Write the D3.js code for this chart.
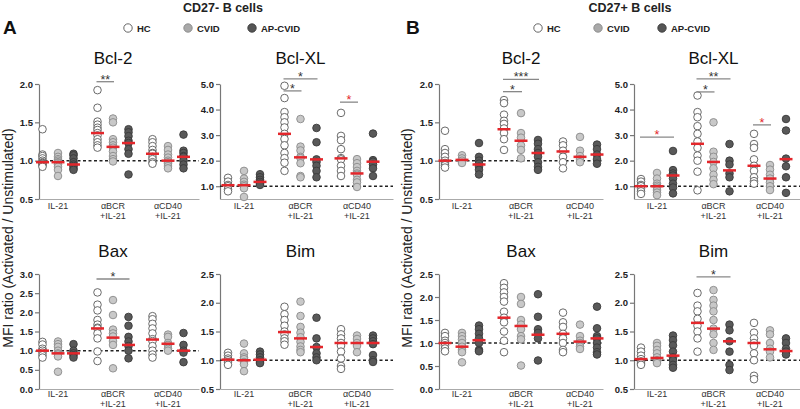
<!DOCTYPE html>
<html>
<head>
<meta charset="utf-8">
<script src="https://cdn.jsdelivr.net/npm/d3@7"></script>
<style>
  body { margin: 0; background: #fff; }
  svg { display: block; font-family: "Liberation Sans", Arial, sans-serif; }
</style>
</head>
<body>
<div id="chart"></div>
<script>
// ---- categories ----
var groups = ["IL-21", "\u03B1BCR", "\u03B1CD40"];
var groupsLine2 = ["", "+IL-21", "+IL-21"];
var series = ["HC", "CVID", "AP-CVID"];

// ---- values, 9 columns each : IL-21 (HC, CVID, AP), aBCR (...), aCD40 (...) ----
var a_bcl2 = [
  [1.41,1.08,1.06,1.03,1.0,0.98,0.97,0.96,0.95,0.94,0.92],
  [1.10,1.05,1.02,1.0,0.98,0.97,0.95,0.92,0.88,0.80],
  [1.09,1.07,1.03,0.98,0.95,0.93,0.90,0.88],
  [1.92,1.69,1.51,1.47,1.43,1.40,1.36,1.33,1.28,1.24,1.20,1.17],
  [1.55,1.50,1.28,1.24,1.20,1.17,1.12,1.06,1.02,0.99],
  [1.41,1.37,1.32,1.26,1.23,1.15,1.09,0.82],
  [1.28,1.24,1.19,1.14,1.10,1.09,1.05,1.02,0.98,0.96],
  [1.19,1.14,1.08,1.04,1.0,0.98,0.96,0.93,0.90],
  [1.34,1.13,1.10,1.06,1.05,1.0,0.95,0.90]
];
var a_bcl2_mid = [0.98,0.98,0.95,1.36,1.18,1.23,1.09,1.0,1.05];

var a_bclxl = [
  [1.33,1.18,1.05,1.0,0.88,0.8],
  [1.6,1.3,1.17,1.06,1.0,0.92,0.58],
  [1.47,1.35,1.25,1.17,1.1,1.05],
  [4.93,4.45,3.9,3.7,3.5,3.3,3.05,2.85,2.6,2.3,2.1,1.92,1.6],
  [3.63,2.55,2.4,2.15,2.1,1.9,1.4,1.35],
  [3.28,2.72,2.05,1.95,1.8,1.6,1.35],
  [3.87,2.97,2.8,2.45,2.1,2.05,1.8,1.6,1.4],
  [2.06,1.9,1.75,1.6,1.5,1.45,1.25,1.15,0.97],
  [3.06,2.02,1.96,1.85,1.7,1.4]
];
var a_bclxl_mid = [1.04,1.04,1.17,3.05,2.13,2.05,2.09,1.5,1.96];

var a_bax = [
  [1.23,1.16,1.05,1.0,0.95,0.88,0.82],
  [1.24,1.17,1.1,1.0,0.93,0.9,0.85,0.45],
  [1.17,1.0,0.93,0.88,0.82],
  [2.52,2.2,2.05,1.8,1.68,1.6,1.58,1.45,1.32,0.98,0.73],
  [2.32,1.93,1.55,1.45,1.37,1.25,1.15,0.54],
  [1.88,1.65,1.36,1.24,1.12,1.0,0.8],
  [1.9,1.82,1.7,1.58,1.45,1.3,1.25,1.12,1.0,0.9,0.82],
  [1.42,1.36,1.2,1.15,1.05,1.0],
  [1.46,1.15,1.0,0.95,0.7]
];
var a_bax_mid = [1.0,0.93,0.93,1.58,1.34,1.15,1.29,1.18,1.0];

var a_bim = [
  [1.13,1.08,1.03,1.0,0.97,0.92],
  [1.29,1.12,1.05,1.02,0.97,0.93,0.81],
  [1.15,1.1,1.05,1.0,0.97,0.95],
  [1.93,1.8,1.7,1.6,1.5,1.45,1.38,1.33,1.27],
  [2.02,1.77,1.58,1.48,1.4,1.32,1.24,1.18,1.14],
  [1.74,1.38,1.23,1.12,1.05,1.0],
  [1.54,1.45,1.38,1.3,1.25,1.15,1.03,0.9,0.85],
  [1.43,1.37,1.3,1.25,1.14],
  [1.43,1.38,1.33,1.28,1.09,1.0,0.97]
];
var a_bim_mid = [1.01,1.0,1.01,1.49,1.38,1.23,1.3,1.3,1.3];

var b_bcl2 = [
  [1.39,1.15,1.1,1.05,1.0,0.97,0.94,0.91],
  [1.07,1.03,1.0,0.97],
  [1.23,1.05,1.0,0.96,0.92,0.88,0.82],
  [1.79,1.75,1.6,1.52,1.48,1.42,1.36,1.28,1.14],
  [1.62,1.36,1.3,1.2,1.14,1.03],
  [1.27,1.22,1.15,1.1,1.05,0.98,0.92,0.88],
  [1.25,1.2,1.13,1.05,0.98,0.9],
  [1.31,1.13,1.06,1.02,0.98],
  [1.21,1.15,1.08,1.02,0.96]
];
var b_bcl2_mid = [1.0,1.01,0.95,1.41,1.26,1.1,1.12,1.05,1.08];

var b_bclxl = [
  [1.28,1.18,1.05,1.0,0.9,0.8,0.7],
  [1.52,1.3,1.1,1.02,0.95,0.85,0.75,0.65],
  [2.38,1.63,1.5,1.42,1.3,1.1,0.95,0.72],
  [4.55,3.9,3.7,3.35,3.05,2.75,2.5,2.2,2.0,1.57,0.84],
  [3.5,2.35,2.15,1.95,1.7,1.45,1.25,1.08],
  [2.65,2.0,1.85,1.5,1.35,0.8],
  [3.05,2.65,2.5,2.05,1.8,1.6,1.35,1.2,1.1],
  [1.83,1.65,1.45,1.3,1.15,1.0,0.85],
  [3.63,3.18,2.08,1.78,1.35,0.74]
];
var b_bclxl_mid = [1.0,1.0,1.42,2.66,1.95,1.62,1.8,1.3,2.06];

var b_bax = [
  [1.22,1.15,1.05,1.0,0.95,0.88,0.82],
  [1.22,1.15,1.08,1.0,0.92,0.85,0.8,0.58],
  [1.38,1.3,1.2,1.1,1.0,0.85,0.82],
  [2.3,2.2,2.1,2.0,1.9,1.68,1.55,1.45,1.25,1.05,0.8],
  [2.0,1.85,1.5,1.4,1.3,1.15,1.08,0.51],
  [2.06,1.57,1.3,1.22,1.1,0.62],
  [1.66,1.45,1.35,1.2,1.1,1.0,0.85,0.8],
  [1.4,1.15,1.05,1.0,0.92,0.87],
  [1.79,1.32,1.15,1.1,1.0,0.9,0.8,0.75]
];
var b_bax_mid = [1.0,0.92,1.06,1.55,1.37,1.18,1.2,1.03,1.1];

var b_bim = [
  [1.22,1.15,1.08,1.02,0.98,0.95,0.92],
  [1.3,1.25,1.18,1.12,1.05,1.0,0.98,0.95],
  [1.43,1.35,1.26,1.15,1.05,1.0,0.92,0.87],
  [2.17,1.95,1.85,1.72,1.6,1.5,1.38,1.15],
  [2.22,2.05,1.95,1.85,1.7,1.55,1.45,1.3,1.18],
  [1.62,1.52,1.33,1.15,0.92,0.83],
  [1.65,1.48,1.38,1.3,1.25,1.12,1.0,0.73,0.67],
  [1.52,1.45,1.3,1.2,1.15,1.05],
  [1.38,1.3,1.2,1.15,1.1]
];
var b_bim_mid = [1.02,1.04,1.08,1.65,1.55,1.33,1.3,1.19,1.16];

// ---- significance brackets: group, from series, to series, height (data units), label ----
var a_bcl2_sig = [{g:1, from:0, to:1, at:2.03, label:"**"}];
var a_bclxl_sig = [
  {g:1, from:0, to:2, at:5.2, label:"*"},
  {g:1, from:0, to:1, at:4.73, label:"*"},
  {g:2, from:0, to:1, at:4.29, label:"*", red:true}
];
var a_bax_sig = [{g:1, from:0, to:2, at:2.87, label:"*"}];
var b_bcl2_sig = [
  {g:1, from:0, to:2, at:2.06, label:"***"},
  {g:1, from:0, to:1, at:1.9, label:"*"}
];
var b_bclxl_sig = [
  {g:1, from:0, to:2, at:5.2, label:"**"},
  {g:1, from:0, to:1, at:4.69, label:"*"},
  {g:2, from:0, to:1, at:3.4, label:"*", red:true},
  {g:0, from:0, to:2, at:2.92, label:"*", red:true}
];
var b_bim_sig = [{g:1, from:0, to:2, at:2.45, label:"*"}];

// ---- tick labels ----
var ticks_bcl2 = [0.5, 1.0, 1.5, 2.0];
var ticks_bclxl = [1.0, 2.0, 3.0, 4.0, 5.0];
var ticks_bax_a = [0.0, 0.5, 1.0, 1.5, 2.0, 2.5, 3.0];
var ticks_bax_b = [0.0, 0.5, 1.0, 1.5, 2.0, 2.5];
var ticks_bim = [0.5, 1.0, 1.5, 2.0, 2.5];

// ---- layout ----
var width = 800, height = 409;
var rows = [
  {top: 84, bottom: 199, lab1: 208.5, lab2: 218.5, title: 64},
  {top: 274, bottom: 389, lab1: 397, lab2: 407, title: 257}
];
var fills = ["#ffffff", "#c8c8c8", "#595959"];
var strokes = ["#5a5a5a", "#8a8a8a", "#3a3a3a"];
var red = "#e3262b";

var panels = [
  {title:"Bcl-2",  data:a_bcl2,  mid:a_bcl2_mid,  sig:a_bcl2_sig,  row:0, x0:39,  first:19, step:55,   off:15.5, w:160, dom:[0.5,2.0], ticks:ticks_bcl2},
  {title:"Bcl-XL", data:a_bclxl, mid:a_bclxl_mid, sig:a_bclxl_sig, row:0, x0:220, first:24, step:56.5, off:16,   w:173, dom:[0.5,5.0], ticks:ticks_bclxl},
  {title:"Bax",    data:a_bax,   mid:a_bax_mid,   sig:a_bax_sig,   row:1, x0:39,  first:19, step:55,   off:15.5, w:160, dom:[0.0,3.0], ticks:ticks_bax_a},
  {title:"Bim",    data:a_bim,   mid:a_bim_mid,   sig:[],          row:1, x0:220, first:24, step:56.5, off:16,   w:173, dom:[0.5,2.5], ticks:ticks_bim},
  {title:"Bcl-2",  data:b_bcl2,  mid:b_bcl2_mid,  sig:b_bcl2_sig,  row:0, x0:439, first:23, step:59,   off:17,   w:164, dom:[0.5,2.0], ticks:ticks_bcl2},
  {title:"Bcl-XL", data:b_bclxl, mid:b_bclxl_mid, sig:b_bclxl_sig, row:0, x0:634, first:23, step:56.5, off:16,   w:166, dom:[0.5,5.0], ticks:ticks_bclxl},
  {title:"Bax",    data:b_bax,   mid:b_bax_mid,   sig:[],          row:1, x0:439, first:23, step:59,   off:17,   w:164, dom:[0.0,2.5], ticks:ticks_bax_b},
  {title:"Bim",    data:b_bim,   mid:b_bim_mid,   sig:b_bim_sig,   row:1, x0:634, first:23, step:56.5, off:16,   w:166, dom:[0.5,2.5], ticks:ticks_bim}
];

var svg = d3.select("#chart").append("svg")
  .attr("width", width)
  .attr("height", height);

// headers: panel letter, title, legend, y title
var halves = [
  {letter:"A", lx:3,   title:"CD27- B cells", tx:223, legX:[128,188,252], yt:8},
  {letter:"B", lx:406, title:"CD27+ B cells", tx:630, legX:[538,598,662], yt:407}
];
halves.forEach(function(h) {
  svg.append("text").attr("x", h.lx).attr("y", 34)
    .style("font-size", "19px").style("font-weight", "bold").attr("fill", "#111")
    .text(h.letter);
  svg.append("text").attr("x", h.tx).attr("y", 12).attr("text-anchor", "middle")
    .style("font-size", "12.5px").style("font-weight", "bold").attr("fill", "#222")
    .text(h.title);
  var leg = svg.append("g").selectAll("g").data(series).enter().append("g")
    .attr("transform", function(d, i) { return "translate(" + h.legX[i] + ",28)"; });
  leg.append("circle").attr("r", 4.2)
    .attr("fill", function(d, i) { return i === 0 ? "#fff" : (i === 1 ? "#a9a9a9" : "#555"); })
    .attr("stroke", function(d, i) { return i === 0 ? "#555" : (i === 1 ? "#888" : "#3a3a3a"); })
    .attr("stroke-width", 0.9);
  leg.append("text").attr("x", 9).attr("y", 3.5)
    .style("font-size", "9.5px").style("font-weight", "bold").attr("fill", "#222")
    .text(function(d) { return d; });
  svg.append("text")
    .attr("transform", "translate(" + (h.yt + 5) + ",238) rotate(-90)")
    .attr("text-anchor", "middle")
    .style("font-size", "14px").attr("fill", "#222")
    .text("MFI ratio (Activated / Unstimulated)");
});

panels.forEach(function(p) {
  var r = rows[p.row];
  var g = svg.append("g");

  var y = d3.scaleLinear().domain(p.dom).range([r.bottom, r.top]);
  var xg = d3.scaleLinear().domain([0, 2]).range([p.x0 + p.first, p.x0 + p.first + 2 * p.step]);
  var xs = d3.scalePoint().domain(series).range([-p.off, p.off]);
  function colX(i) { return xg(Math.floor(i / 3)) + xs(series[i % 3]); }

  // title
  g.append("text").attr("x", xg(1)).attr("y", r.title).attr("text-anchor", "middle")
    .style("font-size", "17px").attr("fill", "#111").text(p.title);

  // y axis
  var ax = g.append("g").attr("transform", "translate(" + p.x0 + ",0)")
    .call(d3.axisLeft(y).tickValues(p.ticks).tickFormat(d3.format(".1f")).tickSize(4).tickSizeOuter(0));
  ax.select(".domain").attr("stroke", "#777").attr("stroke-width", 1.2);
  ax.selectAll(".tick line").attr("stroke", "#777").attr("stroke-width", 1.2);
  ax.selectAll(".tick text").attr("x", -6)
    .style("font-size", "9.5px").style("font-weight", "bold").style("font-family", "Liberation Sans, Arial, sans-serif")
    .attr("fill", "#222");

  // x axis baseline
  var xb = d3.scaleLinear().domain([0, 1]).range([p.x0, p.x0 + p.w]);
  var xa = g.append("g").attr("transform", "translate(0," + r.bottom + ")")
    .call(d3.axisBottom(xb).tickValues([]).tickSizeOuter(0));
  xa.select(".domain").attr("stroke", "#aaa").attr("stroke-width", 1);

  // x labels
  var xl = g.append("g").selectAll("g").data(groups).enter().append("g");
  xl.append("text").attr("x", function(d, i) { return xg(i); }).attr("y", r.lab1)
    .attr("text-anchor", "middle").style("font-size", "9px").attr("fill", "#333")
    .text(function(d) { return d; });
  xl.append("text").attr("x", function(d, i) { return xg(i); }).attr("y", r.lab2)
    .attr("text-anchor", "middle").style("font-size", "9px").attr("fill", "#333")
    .text(function(d, i) { return groupsLine2[i]; });

  // reference line at 1.0
  g.append("line").attr("x1", p.x0).attr("x2", p.x0 + p.w)
    .attr("y1", y(1)).attr("y2", y(1))
    .attr("stroke", "#222").attr("stroke-width", 1.5).attr("stroke-dasharray", "3,2.5");

  // dots
  p.data.forEach(function(vals, i) {
    g.append("g").selectAll("circle").data(vals).enter().append("circle")
      .attr("cx", colX(i))
      .attr("cy", function(d) { return y(d); })
      .attr("r", 3.8)
      .attr("fill", fills[i % 3])
      .attr("stroke", strokes[i % 3])
      .attr("stroke-width", 0.9);
  });

  // center lines
  g.append("g").selectAll("line").data(p.mid).enter().append("line")
    .attr("x1", function(d, i) { return colX(i) - 6.5; })
    .attr("x2", function(d, i) { return colX(i) + 6.5; })
    .attr("y1", function(d) { return y(d); })
    .attr("y2", function(d) { return y(d); })
    .attr("stroke", red).attr("stroke-width", 2.5);

  // significance
  p.sig.forEach(function(s) {
    var xa1 = xg(s.g) + xs(series[s.from]) - 1;
    var xa2 = xg(s.g) + xs(series[s.to]) + 1;
    g.append("line").attr("x1", xa1).attr("x2", xa2)
      .attr("y1", y(s.at)).attr("y2", y(s.at))
      .attr("stroke", "#888").attr("stroke-width", 1.3);
    g.append("text").attr("x", (xa1 + xa2) / 2).attr("y", y(s.at) + 2)
      .attr("text-anchor", "middle").style("font-size", "12.5px")
      .attr("fill", s.red ? red : "#333")
      .text(s.label);
  });
});
</script>
</body>
</html>
